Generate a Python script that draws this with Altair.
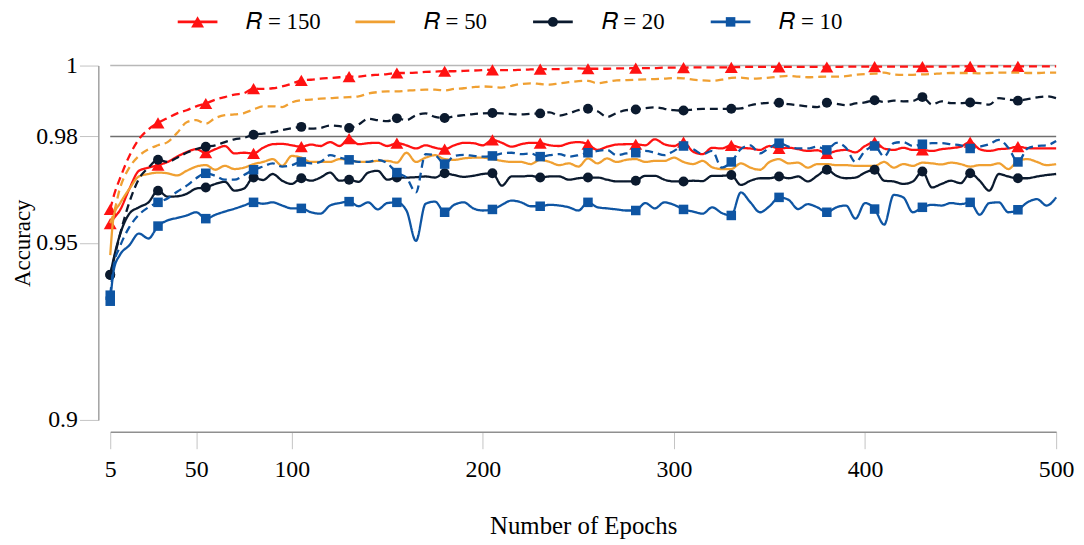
import altair as alt
import pandas as pd

# ---------------- data ----------------
epochs = [5, 7] + list(range(10, 501, 5))
marker_epochs = list(range(5, 481, 25))

labels = ["𝑅 = 150", "𝑅 = 50", "𝑅 = 20", "𝑅 = 10"]
colors = ["#ff1212", "#f0a032", "#0b1a2e", "#0e55a3"]
gridlines = [1.0, 0.98]
y_ticks = [0.9, 0.95, 0.98, 1.0]
x_ticks = [5, 50, 100, 200, 300, 400, 500]

r150_dashed = [
    0.9594, 0.9635, 0.9680, 0.9745, 0.9792, 0.9820, 0.9838, 0.9852, 0.9865, 0.9874, 0.9885,
    0.9893, 0.9904, 0.9911, 0.9918, 0.9922, 0.9935, 0.9934, 0.9936, 0.9941, 0.9949,
    0.9958, 0.9960, 0.9963, 0.9965, 0.9967, 0.9969, 0.9969, 0.9972, 0.9974, 0.9976,
    0.9979, 0.9979, 0.9980, 0.9982, 0.9983, 0.9984, 0.9984, 0.9985, 0.9986, 0.9987,
    0.9988, 0.9987, 0.9987, 0.9988, 0.9989, 0.9990, 0.9990, 0.9990, 0.9991, 0.9992,
    0.9991, 0.9991, 0.9991, 0.9992, 0.9992, 0.9993, 0.9993, 0.9993, 0.9994, 0.9994,
    0.9994, 0.9995, 0.9995, 0.9995, 0.9995, 0.9995, 0.9996, 0.9996, 0.9996, 0.9996,
    0.9996, 0.9996, 0.9996, 0.9996, 0.9996, 0.9996, 0.9996, 0.9997, 0.9997, 0.9997,
    0.9997, 0.9997, 0.9997, 0.9997, 0.9997, 0.9997, 0.9997, 0.9997, 0.9997, 0.9998,
    0.9998, 0.9998, 0.9998, 0.9998, 0.9998, 0.9998, 0.9998, 0.9998, 0.9998, 0.9998,
]
r150_solid = [
    0.9554, 0.9570, 0.9591, 0.9652, 0.9703, 0.9712, 0.9719, 0.9728, 0.9743, 0.9756, 0.9764,
    0.9754, 0.9764, 0.9773, 0.9752, 0.9754, 0.9752, 0.9768, 0.9778, 0.9779, 0.9775,
    0.9771, 0.9777, 0.9773, 0.9784, 0.9773, 0.9794, 0.9778, 0.9781, 0.9782, 0.9773,
    0.9781, 0.9775, 0.9766, 0.9775, 0.9768, 0.9764, 0.9775, 0.9782, 0.9781, 0.9775,
    0.9790, 0.9782, 0.9771, 0.9778, 0.9782, 0.9781, 0.9775, 0.9773, 0.9781, 0.9784,
    0.9778, 0.9762, 0.9771, 0.9777, 0.9778, 0.9778, 0.9775, 0.9792, 0.9778, 0.9773,
    0.9784, 0.9757, 0.9750, 0.9768, 0.9766, 0.9775, 0.9768, 0.9766, 0.9762, 0.9773,
    0.9766, 0.9768, 0.9764, 0.9759, 0.9761, 0.9752, 0.9759, 0.9762, 0.9755, 0.9773,
    0.9784, 0.9766, 0.9762, 0.9768, 0.9762, 0.9762, 0.9759, 0.9764, 0.9767, 0.9771,
    0.9784, 0.9764, 0.9759, 0.9764, 0.9766, 0.9771, 0.9767, 0.9766, 0.9766, 0.9766,
]
r50_dashed = [
    0.9555, 0.9586, 0.9652, 0.9712, 0.9745, 0.9764, 0.9775, 0.9784, 0.9810, 0.9840, 0.9846,
    0.9836, 0.9852, 0.9860, 0.9862, 0.9866, 0.9876, 0.9885, 0.9885, 0.9883, 0.9896,
    0.9902, 0.9904, 0.9907, 0.9908, 0.9910, 0.9911, 0.9913, 0.9921, 0.9925, 0.9927,
    0.9927, 0.9929, 0.9931, 0.9932, 0.9932, 0.9930, 0.9934, 0.9936, 0.9939, 0.9941,
    0.9940, 0.9938, 0.9943, 0.9948, 0.9950, 0.9948, 0.9946, 0.9950, 0.9953, 0.9956,
    0.9957, 0.9950, 0.9954, 0.9958, 0.9959, 0.9960, 0.9961, 0.9962, 0.9963, 0.9965,
    0.9964, 0.9960, 0.9958, 0.9957, 0.9960, 0.9965, 0.9966, 0.9963, 0.9964, 0.9966,
    0.9969, 0.9971, 0.9969, 0.9967, 0.9968, 0.9969, 0.9969, 0.9970, 0.9974, 0.9976,
    0.9977, 0.9980, 0.9975, 0.9974, 0.9974, 0.9975, 0.9976, 0.9978, 0.9979, 0.9979,
    0.9979, 0.9978, 0.9979, 0.9980, 0.9980, 0.9980, 0.9979, 0.9979, 0.9980, 0.9980,
]
r50_solid = [
    0.9465, 0.9580, 0.9610, 0.9652, 0.9687, 0.9694, 0.9698, 0.9696, 0.9690, 0.9703, 0.9715,
    0.9719, 0.9706, 0.9717, 0.9708, 0.9712, 0.9722, 0.9728, 0.9736, 0.9717, 0.9745,
    0.9740, 0.9728, 0.9728, 0.9728, 0.9736, 0.9734, 0.9728, 0.9728, 0.9731, 0.9731,
    0.9726, 0.9754, 0.9728, 0.9740, 0.9747, 0.9736, 0.9734, 0.9738, 0.9740, 0.9740,
    0.9736, 0.9731, 0.9728, 0.9728, 0.9722, 0.9734, 0.9728, 0.9719, 0.9724, 0.9715,
    0.9738, 0.9724, 0.9738, 0.9728, 0.9734, 0.9736, 0.9728, 0.9731, 0.9731, 0.9740,
    0.9728, 0.9722, 0.9731, 0.9713, 0.9708, 0.9708, 0.9724, 0.9712, 0.9706, 0.9728,
    0.9736, 0.9724, 0.9726, 0.9712, 0.9722, 0.9722, 0.9719, 0.9719, 0.9717, 0.9717,
    0.9717, 0.9728, 0.9712, 0.9722, 0.9717, 0.9726, 0.9724, 0.9721, 0.9726, 0.9722,
    0.9715, 0.9719, 0.9719, 0.9724, 0.9708, 0.9731, 0.9736, 0.9728, 0.9719, 0.9722,
]
r20_dashed = [
    0.9410, 0.9455, 0.9521, 0.9614, 0.9680, 0.9712, 0.9734, 0.9728, 0.9740, 0.9754, 0.9764,
    0.9771, 0.9775, 0.9784, 0.9792, 0.9796, 0.9805, 0.9808, 0.9812, 0.9818, 0.9823,
    0.9827, 0.9822, 0.9824, 0.9831, 0.9829, 0.9824, 0.9834, 0.9850, 0.9846, 0.9843,
    0.9851, 0.9846, 0.9860, 0.9865, 0.9855, 0.9852, 0.9857, 0.9860, 0.9863, 0.9865,
    0.9866, 0.9865, 0.9863, 0.9862, 0.9864, 0.9865, 0.9868, 0.9859, 0.9865, 0.9874,
    0.9878, 0.9871, 0.9855, 0.9866, 0.9874, 0.9876, 0.9880, 0.9882, 0.9878, 0.9874,
    0.9873, 0.9876, 0.9878, 0.9878, 0.9878, 0.9878, 0.9879, 0.9888, 0.9893, 0.9895,
    0.9895, 0.9891, 0.9888, 0.9885, 0.9883, 0.9895, 0.9892, 0.9888, 0.9893, 0.9896,
    0.9902, 0.9897, 0.9901, 0.9899, 0.9900, 0.9911, 0.9890, 0.9899, 0.9894, 0.9894,
    0.9896, 0.9894, 0.9890, 0.9908, 0.9904, 0.9901, 0.9905, 0.9910, 0.9913, 0.9908,
]
r20_solid = [
    0.9409, 0.9460, 0.9521, 0.9582, 0.9600, 0.9614, 0.9647, 0.9630, 0.9631, 0.9638, 0.9653,
    0.9656, 0.9666, 0.9672, 0.9647, 0.9653, 0.9684, 0.9677, 0.9694, 0.9675, 0.9666,
    0.9682, 0.9675, 0.9684, 0.9698, 0.9675, 0.9678, 0.9672, 0.9698, 0.9703, 0.9678,
    0.9684, 0.9684, 0.9685, 0.9687, 0.9684, 0.9696, 0.9691, 0.9686, 0.9689, 0.9694,
    0.9696, 0.9661, 0.9687, 0.9687, 0.9689, 0.9684, 0.9687, 0.9687, 0.9678, 0.9682,
    0.9684, 0.9684, 0.9678, 0.9673, 0.9673, 0.9675, 0.9689, 0.9689, 0.9678, 0.9673,
    0.9673, 0.9675, 0.9674, 0.9689, 0.9689, 0.9691, 0.9663, 0.9675, 0.9682, 0.9682,
    0.9687, 0.9682, 0.9687, 0.9673, 0.9689, 0.9706, 0.9689, 0.9682, 0.9684, 0.9698,
    0.9706, 0.9675, 0.9673, 0.9666, 0.9673, 0.9701, 0.9656, 0.9666, 0.9675, 0.9668,
    0.9696, 0.9675, 0.9647, 0.9694, 0.9687, 0.9682, 0.9682, 0.9687, 0.9691, 0.9694,
]
r10_dashed = [
    0.9352, 0.9440, 0.9488, 0.9544, 0.9579, 0.9600, 0.9614, 0.9625, 0.9644, 0.9661, 0.9682,
    0.9696, 0.9689, 0.9678, 0.9678, 0.9691, 0.9706, 0.9715, 0.9724, 0.9715, 0.9719,
    0.9728, 0.9724, 0.9728, 0.9747, 0.9740, 0.9734, 0.9728, 0.9728, 0.9734, 0.9724,
    0.9698, 0.9684, 0.9642, 0.9750, 0.9747, 0.9722, 0.9745, 0.9748, 0.9745, 0.9743,
    0.9745, 0.9752, 0.9754, 0.9750, 0.9752, 0.9743, 0.9747, 0.9750, 0.9743, 0.9747,
    0.9754, 0.9759, 0.9762, 0.9747, 0.9752, 0.9754, 0.9759, 0.9754, 0.9747, 0.9759,
    0.9773, 0.9764, 0.9750, 0.9759, 0.9712, 0.9728, 0.9764, 0.9775, 0.9752, 0.9768,
    0.9781, 0.9771, 0.9766, 0.9766, 0.9771, 0.9762, 0.9782, 0.9768, 0.9728, 0.9759,
    0.9773, 0.9743, 0.9781, 0.9784, 0.9773, 0.9778, 0.9781, 0.9781, 0.9778, 0.9775,
    0.9766, 0.9771, 0.9778, 0.9790, 0.9768, 0.9728, 0.9766, 0.9773, 0.9775, 0.9787,
]
r10_solid = [
    0.9335, 0.9427, 0.9465, 0.9493, 0.9526, 0.9512, 0.9547, 0.9563, 0.9570, 0.9577, 0.9586,
    0.9568, 0.9579, 0.9588, 0.9596, 0.9605, 0.9614, 0.9610, 0.9614, 0.9605, 0.9597,
    0.9597, 0.9586, 0.9582, 0.9605, 0.9612, 0.9616, 0.9603, 0.9614, 0.9594, 0.9612,
    0.9614, 0.9591, 0.9505, 0.9610, 0.9616, 0.9586, 0.9607, 0.9614, 0.9597, 0.9591,
    0.9594, 0.9607, 0.9619, 0.9614, 0.9603, 0.9603, 0.9607, 0.9605, 0.9600, 0.9591,
    0.9614, 0.9600, 0.9597, 0.9594, 0.9591, 0.9591, 0.9612, 0.9597, 0.9614, 0.9607,
    0.9594, 0.9588, 0.9582, 0.9600, 0.9584, 0.9577, 0.9642, 0.9614, 0.9586, 0.9603,
    0.9628, 0.9621, 0.9595, 0.9609, 0.9600, 0.9586, 0.9600, 0.9605, 0.9568, 0.9612,
    0.9595, 0.9551, 0.9635, 0.9628, 0.9586, 0.9600, 0.9607, 0.9605, 0.9612, 0.9609,
    0.9614, 0.9579, 0.9612, 0.9614, 0.9586, 0.9593, 0.9614, 0.9623, 0.9605, 0.9628,
]

series_values = [
    (labels[0], "dashed", r150_dashed), (labels[0], "solid", r150_solid),
    (labels[1], "dashed", r50_dashed), (labels[1], "solid", r50_solid),
    (labels[2], "dashed", r20_dashed), (labels[2], "solid", r20_solid),
    (labels[3], "dashed", r10_dashed), (labels[3], "solid", r10_solid),
]

rows = []
for lab, kind, vals in series_values:
    for e, v in zip(epochs, vals):
        rows.append({"series": lab, "kind": kind, "epoch": e, "acc": v})
df = pd.DataFrame(rows)

# ---------------- styling ----------------
FONT = "Liberation Serif"

x_enc = alt.X(
    "epoch:Q",
    scale=alt.Scale(domain=[5, 500], nice=False, zero=False),
    axis=alt.Axis(
        values=x_ticks, grid=False, offset=12, tickSize=17, tickColor="#c4c4c4",
        domainColor="#8f8f8f", domainWidth=1.6, labelFont=FONT, labelFontSize=24,
        labelColor="black", labelPadding=9, labelFlush=False,
        title="Number of Epochs", titleFont=FONT, titleFontSize=25,
        titleFontWeight="normal", titleColor="black", titlePadding=32,
    ),
)
y_enc = alt.Y(
    "acc:Q",
    scale=alt.Scale(domain=[0.9, 1.0], nice=False, zero=False),
    axis=alt.Axis(
        values=y_ticks, format=".2~f", grid=False, offset=12, tickSize=19,
        tickColor="#c4c4c4", domainColor="#9a9a9a", domainWidth=1.4,
        labelFont=FONT, labelFontSize=24, labelColor="black", labelPadding=2,
        title="Accuracy", titleFont=FONT, titleFontSize=23,
        titleFontWeight="normal", titleColor="black", titlePadding=1,
    ),
)
color_scale = alt.Scale(domain=labels, range=colors)
color_enc = alt.Color("series:N", scale=color_scale, legend=None)
dash_enc = alt.StrokeDash(
    "kind:N",
    scale=alt.Scale(domain=["solid", "dashed"], range=[[1, 0], [8, 5]]),
    legend=None,
)

grid_df = pd.DataFrame({"acc": gridlines})
grid_top = (
    alt.Chart(grid_df).transform_filter(alt.datum.acc > 0.99)
    .mark_rule(color="#b8b8b8", strokeWidth=1.6).encode(y=y_enc)
)
grid_mid = (
    alt.Chart(grid_df).transform_filter(alt.datum.acc < 0.99)
    .mark_rule(color="#6f6f6f", strokeWidth=1.6).encode(y=y_enc)
)

base = alt.Chart(df)
marker_shape = {labels[0]: ("triangle-up", 170), labels[2]: ("circle", 100), labels[3]: ("square", 92)}

layers = [grid_top, grid_mid]
for lab in labels:
    lines = (
        base.transform_filter(alt.FieldEqualPredicate(field="series", equal=lab))
        .mark_line(strokeWidth=2.3, interpolate="monotone")
        .encode(x=x_enc, y=y_enc, color=color_enc, strokeDash=dash_enc, detail="kind:N")
    )
    layers.append(lines)
    if lab in marker_shape:
        shp, sz = marker_shape[lab]
        pts = (
            base.transform_filter(alt.FieldEqualPredicate(field="series", equal=lab))
            .transform_filter(alt.FieldOneOfPredicate(field="epoch", oneOf=marker_epochs))
            .mark_point(shape=shp, size=sz, filled=True, opacity=1)
            .encode(x=x_enc, y=y_enc, color=color_enc)
        )
        layers.append(pts)

main = alt.layer(*layers).properties(width=953, height=357)

# ---------------- legend row (drawn from the labels list) ----------------
legend_df = pd.DataFrame({"series": labels})
leg_x = alt.X("series:N", bandPosition=0,
              scale=alt.Scale(type="band", domain=labels, range=[68, 784],
                              paddingInner=0, paddingOuter=0),
              axis=None)
leg_base = alt.Chart(legend_df)
leg_lines = leg_base.mark_point(shape="M-1,0H1", size=1600, filled=False, strokeWidth=2.8,
                                xOffset=20, opacity=1).encode(x=leg_x, color=color_enc)
leg_layers = [leg_lines]
for lab in labels:
    if lab in marker_shape:
        shp, sz = marker_shape[lab]
        leg_layers.append(
            leg_base.transform_filter(alt.FieldEqualPredicate(field="series", equal=lab))
            .mark_point(shape=shp, size=sz, filled=True, opacity=1, xOffset=20)
            .encode(x=leg_x, color=color_enc)
        )
leg_text = leg_base.mark_text(align="left", baseline="middle", dx=69, font=FONT, fontSize=23,
                              color="black").encode(x=leg_x, text="series:N")
leg_layers.append(leg_text)
legend_row = alt.layer(*leg_layers).properties(width=953, height=24)

chart = (
    alt.vconcat(legend_row, main, spacing=32, bounds="flush")
    .properties(
        padding={"left": 103, "top": 0, "right": 20, "bottom": 533},
        autosize=alt.AutoSizeParams(type="none"),
        background="white",
    )
    .configure_view(stroke=None)
)

chart.save("out.html", embed_options={"renderer": "svg", "actions": False})
